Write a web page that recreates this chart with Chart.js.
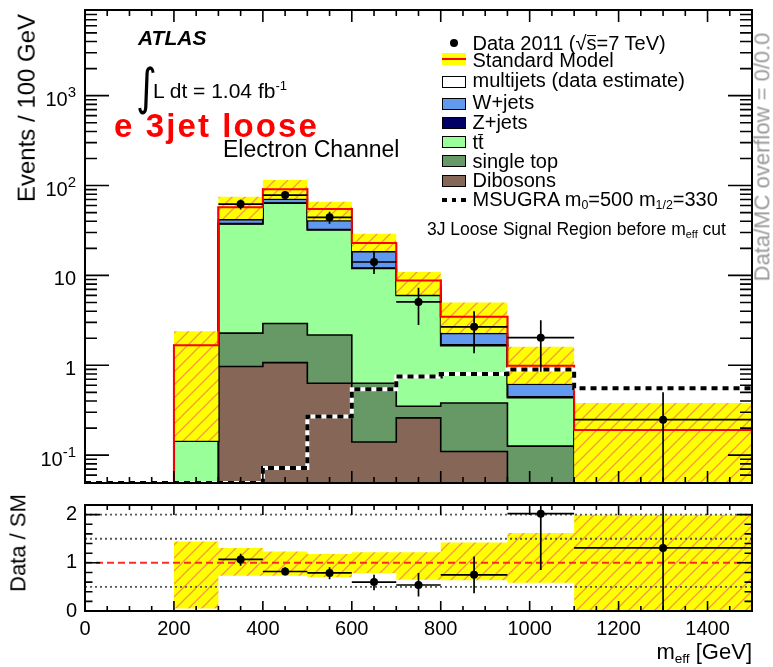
<!DOCTYPE html>
<html>
<head>
<meta charset="utf-8">
<title>m_eff distribution, electron channel, 3-jet loose selection</title>
<script src="https://cdn.jsdelivr.net/npm/chart.js@4.4.1/dist/chart.umd.min.js"></script>
<style>
  html, body { margin: 0; padding: 0; background: #fff; }
  #page { position: relative; width: 773px; height: 667px; overflow: hidden;
          font-family: "Liberation Sans", Arial, Helvetica, sans-serif; color: #000; }
  canvas { position: absolute; left: 0; }
  #mainCanvas { top: 0; }
  #ratioCanvas { top: 485px; }
  .lbl { position: absolute; width: 0; height: 0; }
  .lbl > span { position: absolute; left: 0; top: 0; white-space: nowrap; line-height: 1; transform-origin: 0 0; }
  .sup { position: relative; font-size: 0.62em; top: -0.62em; }
  .sub { position: relative; font-size: 0.62em; top: 0.32em; }
  .bar { position: relative; }
  .bar::before { content: ''; position: absolute; left: 0.02em; right: 0.02em; top: 0.17em;
                 border-top: 1.4px solid currentColor; }
  .key { position: absolute; box-sizing: border-box; }
</style>
</head>
<body>
<div id="page">
  <canvas id="mainCanvas" width="773" height="487"></canvas>
  <canvas id="ratioCanvas" width="773" height="182"></canvas>

  <!-- axis titles -->
  <div class="lbl" data-x="35" data-y="108" data-size="24" data-align="center" data-rot="-90"><span>Events / 100 GeV</span></div>
  <div class="lbl" data-x="26" data-y="543" data-size="22" data-align="center" data-rot="-90"><span>Data / SM</span></div>
  <div class="lbl" data-x="752" data-y="660" data-size="22" data-align="right"><span>m<span class="sub">eff</span> [GeV]</span></div>
  <div class="lbl" data-x="770" data-y="157" data-size="22" data-align="center" data-rot="-90" style="color:#9a9a9a"><span>Data/MC overflow = 0/0.0</span></div>

  <!-- annotations -->
  <div class="lbl" data-x="138" data-y="45" data-size="21" style="font-weight:bold;font-style:italic"><span>ATLAS</span></div>
  <div class="lbl" data-x="136" data-y="104" data-size="40" data-sy="1.25" style="font-family:'DejaVu Sans'"><span>∫</span></div>
  <div class="lbl" data-x="153" data-y="98" data-size="21"><span>L dt = 1.04 fb<span class="sup">-1</span></span></div>
  <div class="lbl" data-x="114" data-y="137" data-size="33" style="color:#ff0000;font-weight:bold;letter-spacing:2.1px"><span>e 3jet loose</span></div>
  <div class="lbl" data-x="223" data-y="157" data-size="23"><span>Electron Channel</span></div>

  <!-- legend -->
  <div class="key" style="left:450px;top:38.5px;width:8px;height:8px;border-radius:50%;background:#000"></div>
  <div class="lbl" data-x="472.5" data-y="49.5" data-size="20"><span>Data 2011 (√<span class="bar">s</span>=7 TeV)</span></div>

  <div class="key" style="left:442px;top:53px;width:24px;height:12px;background:#ffff00"></div>
  <div class="key" style="left:442px;top:58px;width:24px;height:2px;background:#ff0000"></div>
  <div class="lbl" data-x="472.5" data-y="66.5" data-size="20"><span>Standard Model</span></div>

  <div class="key" style="left:442px;top:76px;width:24px;height:12px;background:#ffffff;border:1.5px solid #000"></div>
  <div class="lbl" data-x="472.5" data-y="87" data-size="20"><span>multijets (data estimate)</span></div>

  <div class="key" style="left:442px;top:98px;width:24px;height:12px;background:#6199ef;border:1.5px solid #000"></div>
  <div class="lbl" data-x="472.5" data-y="109" data-size="20"><span>W+jets</span></div>

  <div class="key" style="left:442px;top:117px;width:24px;height:12px;background:#000066;border:1.5px solid #000"></div>
  <div class="lbl" data-x="472.5" data-y="128.5" data-size="20"><span>Z+jets</span></div>

  <div class="key" style="left:442px;top:136px;width:24px;height:12px;background:#99ff99;border:1.5px solid #000"></div>
  <div class="lbl" data-x="472.5" data-y="148.5" data-size="20"><span>t<span class="bar">t</span></span></div>

  <div class="key" style="left:442px;top:155px;width:24px;height:12px;background:#669966;border:1.5px solid #000"></div>
  <div class="lbl" data-x="472.5" data-y="167.5" data-size="20"><span>single top</span></div>

  <div class="key" style="left:442px;top:174.5px;width:24px;height:12px;background:#866657;border:1.5px solid #000"></div>
  <div class="lbl" data-x="472.5" data-y="187" data-size="20"><span>Dibosons</span></div>

  <div class="key" style="left:442px;top:198px;width:24px;height:4px;background:repeating-linear-gradient(90deg,#000 0 5px,transparent 5px 9.5px)"></div>
  <div class="lbl" data-x="472.5" data-y="205.5" data-size="20"><span>MSUGRA m<span class="sub">0</span>=500 m<span class="sub">1/2</span>=330</span></div>

  <div class="lbl" data-x="427" data-y="236" data-size="17.5"><span>3J Loose Signal Region before m<span class="sub">eff</span> cut</span></div>
</div>

<script>
// ---------------- binning and yields (events / 100 GeV) ----------------
const SM_EDGES   = [200, 300, 400, 500, 600, 700, 800, 950, 1100, 1500];
const DIBOSONS   = [0,     0.97, 1.07, 0.63, 0.14, 0.26, 0.11, 0,     0];
const SINGLE_TOP = [0,     1.31, 1.85, 1.54, 0.49, 0.09, 0.27, 0.126, 0.02];
const TTBAR      = [0.143, 35.1, 60.5, 29.9, 11.3, 5.65, 1.27, 0.31,  0.10];
const ZJETS      = [0,     0.30, 0.40, 0.30, 0.15, 0.10, 0.04, 0.01,  0];
const WJETS      = [0,     4.0,  6.8,  8.2,  6.3,  1.5,  0.57, 0.17,  0.05];
const MULTIJETS  = [1.53,  15.5, 20.6, 14.2, 4.6,  1.2,  1.2,  0.37,  0.02];

// Standard Model uncertainty band (lower / upper edge)
const SM_BAND_LO = [0.145, 42.5, 71.5, 41.2, 18.7, 6.1,  2.3,  0.625, 0];
const SM_BAND_HI = [2.39,  75,   115,  66,   29,   10.9, 4.99, 1.61,  0.38];

// MSUGRA m0=500, m1/2=330 signal
const SIG_EDGES = [0, 100, 200, 300, 400, 500, 600, 700, 800, 950, 1100, 1500];
const MSUGRA    = [0, 0,   0,   0,   0.072, 0.27, 0.54, 0.75, 0.80, 0.90, 0.555];

// Data 2011
const DATA_X  = [350,  450,  550,  650,  750,  875,  1025, 1300];
const DATA_Y  = [62.2, 78.3, 44.3, 14.1, 5.07, 2.68, 2.03, 0.248];
const DATA_LO = [54.3, 69.5, 37.6, 10.4, 2.8,  1.36, 0.85, 0];
const DATA_HI = [70.0, 87.2, 51.0, 18.3, 7.3,  4.0,  3.17, 0.5];

// Data / SM ratio
const RATIO_Y  = [1.07, 0.82, 0.79, 0.60, 0.54, 0.75, 2.02, 1.31];
const RATIO_LO = [0.94, 0.74, 0.66, 0.43, 0.30, 0.37, 0.85, 0];
const RATIO_HI = [1.19, 0.91, 0.91, 0.75, 0.79, 1.13, 3.20, 2.62];
const RATIO_BAND_LO = [0.05, 0.73, 0.73,  0.70,  0.79, 0.648, 0.636, 0.587, 0];
const RATIO_BAND_HI = [1.44, 1.31, 1.235, 1.185, 1.22, 1.22,  1.42,  1.62,  2.0];
const RATIO_GUIDES  = [0.5, 1.5, 2.0];
const RATIO_UNITY   = 1;

// axis labelling
const Y_DECADES = [-1, 0, 1, 2, 3];
const X_MAX = 1500;
const Y_MIN = 0.049, Y_MAX = 8980;
const R_MIN = 0, R_MAX = 2.2;

// ---------------- helpers ----------------
const FONT = '"Liberation Sans", Arial, Helvetica, sans-serif';
Chart.defaults.font.family = FONT;

// histogram outline: vertical rise at the first edge, then one flat step per bin
function stepPoints(edges, vals, floor) {
  const pts = [{x: edges[0], y: floor}];
  vals.forEach((v, i) => pts.push({x: edges[i], y: Math.max(v, floor)}));
  pts.push({x: edges[edges.length - 1], y: Math.max(vals[vals.length - 1], floor)});
  return pts;
}

// yellow band with orange diagonal hatching
function hatchPattern() {
  const n = 13;
  const c = document.createElement('canvas');
  c.width = n; c.height = n;
  const g = c.getContext('2d');
  g.fillStyle = '#ffff00';
  g.fillRect(0, 0, n, n);
  g.strokeStyle = '#f39b3f';
  g.lineWidth = 1.3;
  g.beginPath();
  g.moveTo(-2, n + 2); g.lineTo(n + 2, -2);
  g.moveTo(-2, 2); g.lineTo(2, -2);
  g.moveTo(n - 2, n + 2); g.lineTo(n + 2, n - 2);
  g.stroke();
  return g.createPattern(c, 'repeat');
}
const HATCH = hatchPattern();

function errorBarPoints(ys, los, his, floor) {
  const pts = [];
  DATA_X.forEach((x, i) => {
    pts.push({x: SM_EDGES[i + 1], y: ys[i]}, {x: SM_EDGES[i + 2], y: ys[i]}, {x: x, y: null});
    pts.push({x: x, y: Math.max(los[i], floor)}, {x: x, y: his[i]}, {x: x, y: null});
  });
  return pts;
}

// ROOT-style frame with inward tick marks on all four sides
function framePlugin(cfg) {
  return {
    id: 'frameTicks',
    afterDatasetsDraw(chart) {
      const {ctx, chartArea: a, scales: {x, y}} = chart;
      ctx.save();
      ctx.strokeStyle = '#000';
      ctx.lineWidth = 1.6;
      ctx.beginPath();
      for (let v = 50; v < X_MAX; v += 50) {
        const px = x.getPixelForValue(v);
        const len = v % 200 === 0 ? cfg.xMajor : cfg.xMinor;
        ctx.moveTo(px, a.bottom); ctx.lineTo(px, a.bottom - len);
        ctx.moveTo(px, a.top);    ctx.lineTo(px, a.top + len);
      }
      cfg.yTicks.forEach(t => {
        const py = y.getPixelForValue(t.v);
        if (py < a.top + 1 || py > a.bottom - 1) return;
        const len = t.major ? cfg.yMajor : cfg.yMinor;
        ctx.moveTo(a.left, py);  ctx.lineTo(a.left + len, py);
        ctx.moveTo(a.right, py); ctx.lineTo(a.right - len, py);
      });
      ctx.stroke();
      ctx.lineWidth = 2;
      ctx.strokeRect(a.left, a.top, a.right - a.left, a.bottom - a.top);

      if (cfg.logLabels) {
        const right = 76;
        ctx.fillStyle = '#000';
        ctx.textAlign = 'left';
        ctx.textBaseline = 'alphabetic';
        Y_DECADES.forEach(p => {
          const py = y.getPixelForValue(Math.pow(10, p));
          const base = p === 0 ? '1' : '10';
          const exp = (p === 0 || p === 1) ? '' : String(p);
          ctx.font = '15px ' + FONT;
          const we = exp ? ctx.measureText(exp).width : 0;
          ctx.font = '20px ' + FONT;
          const wb = ctx.measureText(base).width;
          ctx.fillText(base, right - wb - we, py + (exp ? 10.5 : 9.5));
          if (exp) {
            ctx.font = '15px ' + FONT;
            ctx.fillText(exp, right - we, py + 1.5);
          }
        });
      }
      ctx.restore();
    }
  };
}

// ---------------- main panel ----------------
const STACK = [
  {vals: DIBOSONS,   color: '#866657'},
  {vals: SINGLE_TOP, color: '#669966'},
  {vals: TTBAR,      color: '#99ff99'},
  {vals: ZJETS,      color: '#000066'},
  {vals: WJETS,      color: '#6199ef'},
  {vals: MULTIJETS,  color: '#ffffff'},
];
let running = DIBOSONS.map(() => 0);
const stackTops = STACK.map(c => (running = running.map((s, i) => s + c.vals[i])));
const smTotal = stackTops[stackTops.length - 1];

const line = (extra) => Object.assign({stepped: true, pointRadius: 0, fill: false,
  borderWidth: 0, borderColor: 'rgba(0,0,0,0)', borderJoinStyle: 'miter'}, extra);

const mainSets = [];
stackTops.forEach((tops, i) => mainSets.push(line({
  data: stepPoints(SM_EDGES, tops, Y_MIN),
  backgroundColor: STACK[i].color,
  fill: i === 0 ? 'start' : i - 1,
})));
stackTops.forEach(tops => mainSets.push(line({
  data: stepPoints(SM_EDGES, tops, Y_MIN), borderWidth: 1.6, borderColor: '#000',
})));
const bandLoIndex = mainSets.length;
mainSets.push(line({data: stepPoints(SM_EDGES, SM_BAND_LO, Y_MIN)}));
mainSets.push(line({data: stepPoints(SM_EDGES, SM_BAND_HI, Y_MIN), fill: bandLoIndex, backgroundColor: HATCH}));
mainSets.push(line({data: stepPoints(SM_EDGES, smTotal, Y_MIN), borderWidth: 2, borderColor: '#ff0000'}));
mainSets.push(line({data: stepPoints(SIG_EDGES, MSUGRA, Y_MIN), borderWidth: 4, borderColor: '#ffffff'}));
mainSets.push(line({data: stepPoints(SIG_EDGES, MSUGRA, Y_MIN), borderWidth: 4, borderColor: '#000', borderDash: [6, 5]}));
mainSets.push(line({stepped: false, data: errorBarPoints(DATA_Y, DATA_LO, DATA_HI, Y_MIN), borderWidth: 1.7, borderColor: '#000'}));
mainSets.push({data: DATA_X.map((x, i) => ({x, y: DATA_Y[i]})), showLine: false,
  pointRadius: 4, pointBackgroundColor: '#000', pointBorderWidth: 0});
mainSets.forEach((d, i) => { d.order = mainSets.length - i; });

const logTicks = [];
for (let d = -2; d <= 3; d++) for (let k = 1; k <= 9; k++) logTicks.push({v: k * Math.pow(10, d), major: k === 1});

new Chart(document.getElementById('mainCanvas'), {
  type: 'line',
  data: {datasets: mainSets},
  options: {
    responsive: false, animation: false, events: [],
    layout: {padding: {left: 85, right: 21, top: 10, bottom: 2}},
    scales: {
      x: {type: 'linear', min: 0, max: X_MAX, display: false},
      y: {type: 'logarithmic', min: Y_MIN, max: Y_MAX, display: false},
    },
    plugins: {legend: {display: false}, tooltip: {enabled: false}},
  },
  plugins: [framePlugin({xMajor: 12, xMinor: 6, yMajor: 24, yMinor: 12, yTicks: logTicks, logLabels: true})],
});

// ---------------- ratio panel ----------------
const ratioSets = [];
ratioSets.push(line({data: stepPoints(SM_EDGES, RATIO_BAND_LO, R_MIN)}));
ratioSets.push(line({data: stepPoints(SM_EDGES, RATIO_BAND_HI, R_MIN), fill: 0, backgroundColor: HATCH}));
RATIO_GUIDES.forEach(g => ratioSets.push(line({stepped: false,
  data: [{x: 0, y: g}, {x: X_MAX, y: g}], borderWidth: 1.8, borderColor: '#555', borderDash: [2, 3]})));
ratioSets.push(line({stepped: false, data: [{x: 0, y: RATIO_UNITY}, {x: X_MAX, y: RATIO_UNITY}],
  borderWidth: 2, borderColor: '#ff2a2a', borderDash: [7, 4]}));
ratioSets.push(line({stepped: false, data: errorBarPoints(RATIO_Y, RATIO_LO, RATIO_HI, R_MIN), borderWidth: 1.7, borderColor: '#000'}));
ratioSets.push({data: DATA_X.map((x, i) => ({x, y: RATIO_Y[i]})), showLine: false,
  pointRadius: 4, pointBackgroundColor: '#000', pointBorderWidth: 0});
ratioSets.forEach((d, i) => { d.order = ratioSets.length - i; });

const ratioTicks = [];
for (let k = 0; k <= 11; k++) ratioTicks.push({v: k * 0.2, major: k % 5 === 0});

new Chart(document.getElementById('ratioCanvas'), {
  type: 'line',
  data: {datasets: ratioSets},
  options: {
    responsive: false, animation: false, events: [],
    layout: {padding: {left: 0, right: 21, top: 6, bottom: 0}},
    scales: {
      x: {type: 'linear', min: 0, max: X_MAX, position: 'bottom',
          grid: {display: false, drawTicks: false}, border: {display: false},
          ticks: {stepSize: 200, includeBounds: false, autoSkip: false, maxRotation: 0, minRotation: 0,
                  padding: 6, color: '#000', font: {size: 20}, callback: v => String(v)},
          afterFit: s => { s.height = 56; }},
      y: {type: 'linear', min: R_MIN, max: R_MAX, position: 'left',
          grid: {display: false, drawTicks: false}, border: {display: false},
          ticks: {stepSize: 1, includeBounds: false, padding: 8, color: '#000', font: {size: 20},
                  callback: v => Number.isInteger(v) ? String(v) : ''},
          afterFit: s => { s.width = 85; }},
    },
    plugins: {legend: {display: false}, tooltip: {enabled: false}},
  },
  plugins: [framePlugin({xMajor: 10, xMinor: 5, yMajor: 15, yMinor: 7.5, yTicks: ratioTicks, logLabels: false})],
});

// ---------------- text placement (baseline anchored) ----------------
document.querySelectorAll('.lbl').forEach(el => {
  const d = el.dataset;
  const span = el.firstElementChild;
  el.style.left = d.x + 'px';
  el.style.top = d.y + 'px';
  span.style.fontSize = d.size + 'px';
  const frac = {left: 0, center: 50, right: 100}[d.align || 'left'];
  const rot = +(d.rot || 0);
  const sx = d.sx || 1, sy = d.sy || 1;
  span.style.transform = `rotate(${rot}deg) scale(${sx}, ${sy}) translate(${-frac}%, -0.8465em)`;
});
</script>
</body>
</html>
